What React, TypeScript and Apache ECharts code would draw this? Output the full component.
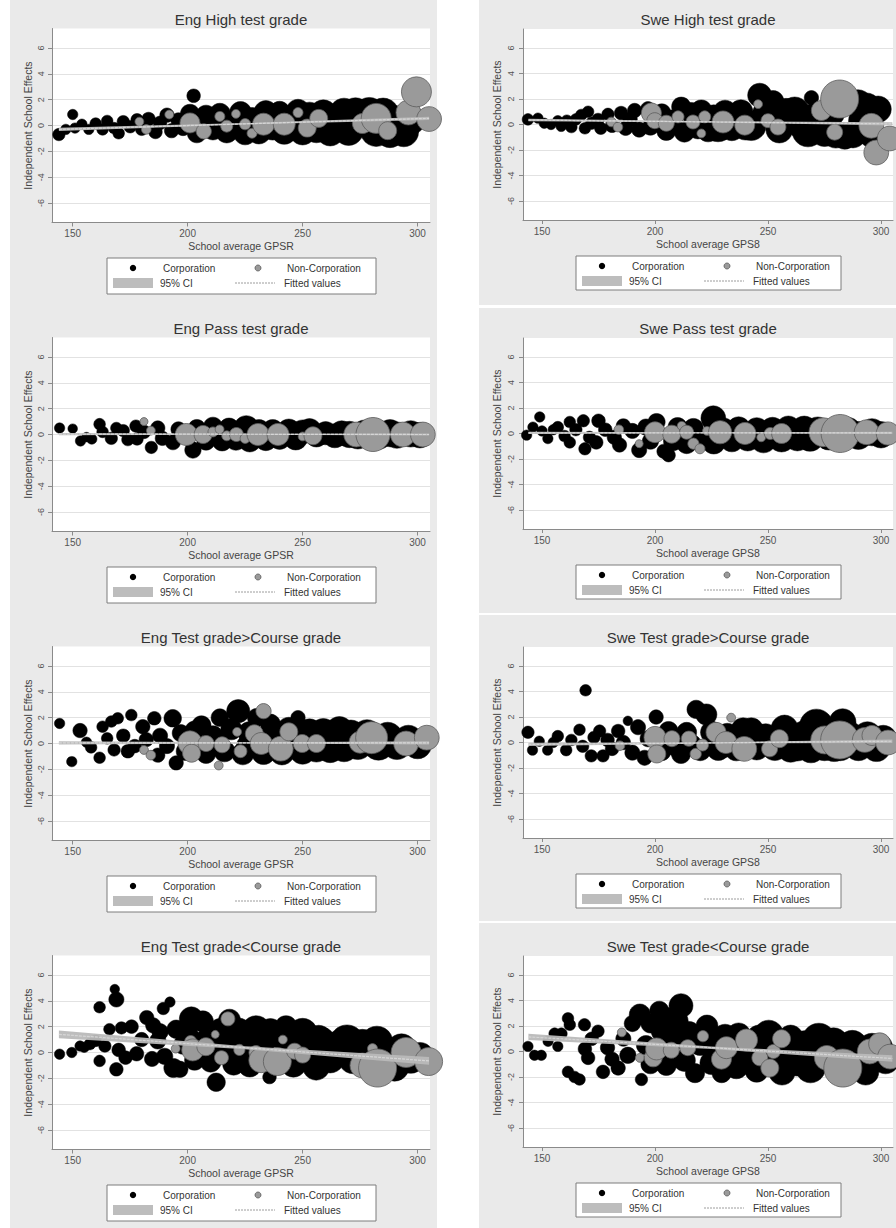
import React, { useEffect, useRef } from "react";
import * as echarts from "echarts";

const xTicks = [150, 200, 250, 300];
const yTicks = [-6, -4, -2, 0, 2, 4, 6];
const panelTitles = [
  "Eng High test grade",
  "Swe High test grade",
  "Eng Pass test grade",
  "Swe Pass test grade",
  "Eng Test grade>Course grade",
  "Swe Test grade>Course grade",
  "Eng Test grade<Course grade",
  "Swe Test grade<Course grade",
];
const xAxisTitles = [
  "School average GPSR",
  "School average GPS8",
  "School average GPSR",
  "School average GPS8",
  "School average GPSR",
  "School average GPS8",
  "School average GPSR",
  "School average GPS8",
];
const yAxisTitle = "Independent School Effects";
const legendLabels = ["Corporation", "Non-Corporation", "95% CI", "Fitted values"];

// [GPS, effect, school weight]
const engHighCorp = [
  [144, -0.7, 31], [150, 0.85, 26], [147, -0.3, 26], [151, -0.2, 26], [154, 0.1, 26], [157, -0.3, 26],
  [160, 0.15, 29], [163, -0.3, 29], [165, 0.35, 29], [168, -0.2, 29], [170, -0.6, 29], [172, 0.3, 31],
  [175, -0.1, 31], [178, 0.45, 31], [180, -0.3, 31], [183, 0.5, 34], [186, -0.5, 34], [188, 0.2, 34],
  [191, 0.8, 36], [193, -0.4, 36], [196, 0.4, 38], [198, -0.2, 38], [202.6, 2.3, 34],
  [201, 0.9, 48], [204, -0.6, 48], [208, 0.8, 50], [211, -0.3, 53], [214, 0.9, 53], [217, -0.5, 55],
  [220, 0.3, 55], [223, 1.0, 55], [225, -0.6, 58], [228, 0.5, 58], [231, -0.5, 60], [234, 1.0, 60],
  [237, -0.2, 60], [240, 1.1, 50], [242, -0.5, 62], [245, 0.6, 62], [248, 1.1, 60], [250, -0.5, 65],
  [253, 0.8, 65], [256, -0.3, 67], [259, 0.9, 70], [262, -0.5, 70], [265, 0.6, 72], [268, 1.0, 72],
  [270, -0.4, 74], [273, 1.0, 74], [276, 0.3, 77], [279, 0.95, 79], [282, -0.4, 79], [285, 0.9, 79],
  [288, -0.6, 72], [291, 0.3, 79], [294, -0.5, 74], [297, 0.4, 72],
];
const engHighNon = [
  [179, 0.3, 22], [182, -0.3, 24], [192, 0.85, 22], [201, 0.2, 50], [207, -0.45, 38], [214, 0.7, 25],
  [217, -0.05, 30], [221, 0.9, 22], [225, 0.1, 28], [228, -0.6, 25], [233, 0.1, 55], [242, 0.1, 55],
  [248, 1.0, 25], [252, -0.2, 45], [257, 0.55, 45], [276, 0.15, 50], [282, 0.55, 75], [287, -0.4, 45],
  [296, 1.0, 62], [299.5, 2.6, 75], [305, 0.5, 62],
];
// [GPS, fitted, lower CI, upper CI]
const engHighFit = [[144, -0.3, -0.42, -0.18], [225, 0.13, 0.07, 0.19], [305, 0.55, 0.43, 0.67]];

const sweHighCorp = [
  [143.8, 0.4, 29], [148.2, 0.5, 26], [151, 0.1, 26], [154, 0.0, 26], [157, 0.3, 26], [158.5, -0.15, 26],
  [161, 0.3, 29], [163, -0.2, 29], [165, 0.4, 29], [167.4, 0.75, 29], [169, -0.3, 29], [170.4, 1.0, 29],
  [172, 0.1, 31], [174.8, 0.4, 31], [176, -0.3, 31], [179.2, 0.8, 31], [181, -0.1, 34], [185, 0.9, 34],
  [187, -0.3, 36], [189, 0.4, 36], [191, 1.1, 36], [193, -0.4, 38], [196.9, 1.2, 38], [198, -0.2, 41],
  [203, 0.9, 46], [205, -0.5, 48], [208, 0.4, 48], [211.6, 1.4, 48], [213, -0.6, 50], [216, 0.9, 53],
  [219, -0.3, 53], [220.5, 1.1, 53], [223.5, -0.5, 55], [226, 0.6, 60], [227.9, -0.1, 80], [231, 1.0, 58],
  [234, -0.3, 62], [238, 1.0, 60], [240, -0.2, 65], [242.6, -0.1, 74], [246.3, 2.3, 60], [249, 0.9, 65],
  [252.2, 1.8, 55], [255, -0.4, 67], [258, 1.0, 67], [261.8, 1.0, 74], [264.7, 0.2, 80], [267.7, -0.5, 80],
  [269.2, 2.1, 36], [272, 0.6, 77], [275, -0.6, 72], [278, 0.9, 67], [280, -0.8, 67], [283.9, -1.0, 60],
  [287.6, -0.8, 66], [289.8, 1.6, 72], [292, 0.3, 72], [293.5, 1.3, 75], [298.7, 1.2, 66], [296, -0.8, 66],
];
const sweHighNon = [
  [180.7, 0.2, 24], [183.6, -0.2, 24], [198.4, 0.9, 50], [199.9, 0.3, 40], [205, 0.1, 40], [210.2, 0.6, 30],
  [216.8, 0.2, 35], [222, 0.6, 30], [220.5, -0.7, 22], [230.1, 0.2, 55], [239.7, -0.05, 50], [245.6, 1.6, 22],
  [250, 0.3, 35], [254.4, -0.2, 40], [273.6, 1.1, 50], [281.7, 2.0, 95], [279.5, -0.6, 40], [295.7, -0.1, 62],
  [297.9, -2.2, 62], [303.8, -1.1, 62],
];
const sweHighFit = [[144, 0.35, 0.25, 0.45], [225, 0.2, 0.15, 0.25], [305, 0.05, -0.07, 0.17]];

const engPassCorp = [
  [144.3, 0.5, 26], [150, 0.45, 24], [153.4, -0.5, 26], [156, -0.2, 24], [158.3, -0.35, 26], [161.7, 0.8, 29],
  [163, 0.2, 29], [166.8, -0.3, 31], [169, 0.5, 29], [172, 0.3, 31], [174, -0.4, 31], [177.5, 0.65, 31],
  [178, -0.35, 31], [181, 0.2, 34], [184.2, -1.0, 31], [187, 0.5, 36], [189, -0.3, 36], [193.6, -0.6, 38],
  [196, 0.4, 38], [202.3, -1.2, 41], [204, 0.5, 43], [208, -0.5, 46], [211, 0.6, 48], [215, -0.5, 50],
  [218, 0.5, 50], [221, -0.4, 53], [225.5, 0.5, 62], [227, -0.5, 55], [231, 0.3, 55], [234, -0.4, 55],
  [237, 0.3, 55], [240, -0.3, 55], [244, 0.3, 58], [247, -0.3, 58], [250, 0.2, 60], [253, 0.3, 60],
  [256, -0.1, 56], [260, 0.1, 58], [264, -0.1, 60], [267, 0.1, 62], [270.4, 0.0, 66], [274, -0.1, 66],
  [277, 0.1, 66], [283, -0.1, 68], [288, 0.1, 68], [291, -0.05, 66], [297, 0.05, 66], [301, -0.05, 64],
];
const engPassNon = [
  [181, 1.0, 20], [184, 0.3, 22], [199.4, 0.0, 55], [206.7, 0.0, 45], [211, 0.2, 25], [213.9, 0.4, 22],
  [217, -0.1, 25], [221.2, 0.0, 35], [225, -0.3, 25], [230.6, 0.0, 55], [239.3, 0.0, 55], [250, -0.15, 22],
  [254.5, -0.1, 45], [273.3, 0.0, 62], [280.6, 0.0, 85], [293.6, 0.0, 62], [302.3, 0.0, 62],
];
const engPassFit = [[144, 0.03, -0.05, 0.11], [225, 0.02, -0.02, 0.06], [305, 0.0, -0.08, 0.08]];

const swePassCorp = [
  [143.2, -0.13, 26], [146, 0.5, 26], [149, 1.3, 26], [150, 0.2, 26], [152.6, -0.4, 26], [155, 0.3, 26],
  [157, 0.5, 29], [160, -0.2, 29], [162.3, 0.9, 29], [162.3, -0.7, 29], [165, 0.3, 31], [168.3, 1.0, 31],
  [169, -1.2, 31], [171, -0.3, 31], [175, 1.0, 34], [174, -0.7, 34], [178, 0.3, 34], [182, -0.3, 36],
  [184.3, -0.9, 36], [186, 0.6, 36], [190, 0.2, 38], [193, -1.3, 38], [196, 0.5, 41], [198, -0.6, 41],
  [200.7, 0.9, 43], [204, -1.4, 36], [206, -1.7, 34], [208, -0.6, 48], [210, 0.5, 48], [214, -0.8, 50],
  [217, 0.4, 50], [220, -0.5, 53], [225.8, 1.2, 62], [226, -0.7, 58], [230, 0.3, 60], [234, -0.5, 60],
  [237, 0.4, 58], [241, -0.4, 62], [245, 0.3, 60], [248, -0.5, 65], [252, 0.3, 62], [256, -0.4, 67],
  [259, 0.4, 62], [263, -0.3, 68], [266, 0.3, 68], [268.6, -0.3, 70], [272, 0.2, 70], [277, -0.2, 70],
  [285, 0.15, 72], [290, -0.15, 70], [296, 0.1, 68], [300, -0.1, 66],
];
const swePassNon = [
  [184, 0.3, 24], [193, -0.8, 20], [200, 0.1, 52], [207.4, -0.05, 45], [211.8, 0.6, 22], [214, 0.1, 35],
  [217, -0.8, 28], [219.9, -1.2, 25], [223, 0.2, 22], [228.8, 0.1, 58], [239.8, 0.0, 55], [247, -0.3, 22],
  [251, 0.0, 30], [256, 0.0, 50], [274.5, 0.1, 72], [281.9, 0.0, 95], [293.6, 0.1, 62], [303, 0.0, 58],
];
const swePassFit = [[144, 0.05, -0.04, 0.14], [225, 0.05, 0.01, 0.09], [305, 0.05, -0.04, 0.14]];

const engAboveCorp = [
  [144.3, 1.55, 26], [149.6, -1.4, 26], [153.2, 1.0, 36], [156, 0.1, 26], [158, -0.3, 29], [161.7, -1.1, 29],
  [163, 1.3, 29], [165, 0.4, 29], [166.8, 1.7, 29], [168, -0.5, 31], [169.6, 1.95, 29], [172, 0.6, 34],
  [174, -0.6, 34], [175.5, 2.2, 29], [177, -0.2, 34], [180.5, 1.3, 36], [182, 0.3, 36], [185.5, 1.95, 34],
  [187, -0.9, 36], [188, 0.6, 38], [191, -0.2, 38], [193.5, 1.95, 44], [195, -1.5, 36], [197, 0.8, 43],
  [199, -0.6, 46], [200, 0.3, 46], [203, 1.0, 48], [206, 1.4, 48], [208, -0.8, 48], [211, 0.6, 50],
  [213, 0.0, 50], [214, 2.0, 44], [216, -0.6, 53], [219, 1.1, 53], [222, 2.5, 58], [224, -0.8, 55],
  [226, -0.2, 55], [227, 0.8, 58], [230, 2.0, 46], [233, -0.7, 60], [235, 0.5, 55], [236, 1.5, 50],
  [238, 0.5, 60], [241, -0.7, 62], [244, 1.1, 60], [247, 0.3, 60], [248, 2.0, 36], [250, -0.6, 65],
  [253, 0.9, 65], [256, -0.4, 67], [259, 0.9, 67], [260, 0.2, 65], [262, -0.4, 70], [266, 1.0, 70],
  [268, -0.3, 72], [271, 0.7, 72], [274, -0.1, 74], [278, 0.7, 74], [283, -0.1, 77], [287, 0.5, 74],
  [291, -0.1, 74], [296, 0.3, 72], [300, -0.1, 70],
];
const engAboveNon = [
  [181, -0.5, 22], [184, -0.9, 24], [201, 0.05, 60], [201.7, -0.75, 45], [208, 0.0, 40], [213.5, -1.7, 22],
  [215, -0.1, 40], [221.5, 0.9, 22], [223, -0.6, 32], [229, 0.75, 45], [232, 0.0, 55], [233, 2.5, 38],
  [240.5, -0.4, 62], [244, 0.9, 45], [249.8, 0.0, 45], [256, 0.0, 45], [275, 0.1, 55], [280, 0.45, 80],
  [295, 0.0, 62], [304, 0.45, 62],
];
const engAboveFit = [[144, 0.05, -0.08, 0.18], [225, 0.05, 0.0, 0.1], [305, 0.05, -0.08, 0.18]];

const sweAboveCorp = [
  [143.8, 0.8, 31], [145.8, -0.6, 26], [148.8, 0.1, 26], [152.5, -0.6, 26], [155, 0.0, 26], [157, 0.5, 29],
  [160.7, -0.6, 29], [163, 0.2, 29], [166.6, 1.0, 29], [168, -0.3, 31], [169.3, 4.1, 29], [171.8, -1.05, 31],
  [173, 0.4, 31], [175.5, 0.9, 31], [177, -1.05, 31], [179, 0.2, 34], [181, -0.5, 34], [183.7, 0.9, 34],
  [186, 0.0, 36], [188, 1.7, 24], [190, -0.8, 38], [192.5, 1.2, 38], [195.4, -1.2, 38], [197, 0.3, 41],
  [200.5, 2.0, 36], [203, -0.7, 46], [205, -0.1, 50], [206, 0.9, 48], [209, -0.3, 48], [211.5, -0.9, 48],
  [214, 0.8, 50], [216, -0.2, 53], [218.2, 2.6, 46], [220, -0.6, 53], [222.7, 2.2, 53], [225, 0.8, 55],
  [228, -0.5, 58], [230, -0.3, 58], [232, 0.6, 58], [236, -0.5, 60], [239, 1.0, 60], [242.6, 1.0, 60],
  [244, 0.2, 62], [245, -0.4, 62], [249, 0.5, 62], [253, -0.4, 65], [257.3, 1.1, 67], [258, 0.3, 65],
  [260, -0.5, 67], [263, -0.4, 67], [266, 0.6, 70], [269, -0.5, 70], [271.4, 1.3, 84], [275, -0.3, 72],
  [279.3, -0.4, 70], [282, -0.3, 72], [283, 1.6, 67], [286, 0.5, 72], [290, -0.3, 72], [294, 0.5, 72],
  [298, -0.4, 70], [301, 0.3, 67],
];
const sweAboveNon = [
  [184.5, -0.25, 24], [200, 0.4, 55], [200.8, -0.9, 45], [207.5, 0.3, 40], [215, 0.3, 38], [218, -0.9, 28],
  [221, -0.2, 30], [227, 0.8, 50], [231.4, 0.0, 55], [233.7, 1.95, 22], [239.5, -0.5, 62], [250.7, -0.5, 40],
  [255, 0.3, 45], [275.1, 0.2, 70], [281.7, 0.2, 95], [292.8, 0.2, 62], [296, 0.55, 50], [303.1, 0.0, 62],
];
const sweAboveFit = [[144, -0.15, -0.28, -0.02], [225, -0.03, -0.08, 0.02], [305, 0.1, -0.03, 0.23]];

const engBelowCorp = [
  [144.3, -0.13, 26], [149.6, 0.0, 26], [153.2, 0.5, 26], [155, 0.4, 26], [157.5, 0.65, 29], [160, 0.9, 29],
  [161.7, 3.5, 29], [161.7, -0.65, 29], [164, 0.5, 31], [166, 1.8, 29], [168.3, 4.9, 24], [169, 4.1, 38],
  [169, -1.3, 34], [170, 0.2, 34], [171.2, 1.9, 31], [173, -0.4, 34], [175.6, 2.0, 34], [177.8, -0.1, 36],
  [180, 1.0, 36], [182.2, 2.7, 36], [184.5, -0.5, 38], [185, 2.1, 38], [187, 0.9, 41], [188, 1.6, 41],
  [189.4, 3.4, 31], [190, -0.3, 41], [192.3, 3.9, 26], [193.8, -1.2, 48], [195, 1.8, 46], [196.6, -1.3, 41],
  [198, 0.6, 48], [200, 1.3, 55], [201.6, 2.6, 60], [203, -0.6, 50], [204, 0.4, 55], [206.6, 2.4, 53],
  [208, 1.0, 53], [210, -0.7, 53], [211, 0.5, 55], [212.4, -2.3, 46], [214, 1.8, 53], [216, 0.2, 55],
  [218.2, 2.5, 55], [219, 1.2, 60], [220, -0.9, 55], [222.5, 1.8, 55], [225, 0.5, 58], [227, -1.0, 58],
  [227, 0.0, 62], [229.8, 1.7, 74], [233, 0.8, 60], [235.6, -1.9, 34], [236, 1.7, 60], [237, -0.8, 62],
  [240, 1.3, 62], [242.8, 2.0, 55], [244, -0.4, 65], [245, 0.3, 65], [246, -0.9, 65], [250, 1.5, 74],
  [253, -0.3, 67], [255.9, -1.1, 67], [257, 1.1, 65], [258, 0.9, 70], [262, -0.5, 70], [262, 0.2, 70],
  [265, 0.5, 74], [269.3, 0.8, 86], [272, -0.5, 74], [276, 0.6, 77], [279, -0.8, 74], [282.3, 0.8, 80],
  [286, -0.2, 77], [290, -1.1, 72], [293, 0.3, 74], [297, -0.5, 72], [301, -0.3, 70],
];
const engBelowNon = [
  [194.8, 0.3, 22], [201.3, 0.85, 30], [202.2, 0.2, 55], [207.9, 0.45, 45], [212, 1.4, 20], [214.7, -0.4, 35],
  [217.5, 2.6, 35], [222.5, 0.2, 28], [229.7, 0.0, 35], [232, -0.6, 62], [239, -0.7, 70], [241.4, 1.0, 22],
  [246.5, 0.1, 40], [250, -0.2, 40], [276, -1.0, 62], [280.4, 0.3, 25], [282.6, -1.2, 95], [295, 0.0, 75],
  [304.8, -0.7, 70],
];
const engBelowFit = [[144, 1.4, 1.1, 1.7], [225, 0.37, 0.25, 0.49], [305, -0.65, -0.95, -0.35]];

const sweBelowCorp = [
  [143.8, 0.4, 26], [146.7, -0.3, 26], [149.7, -0.3, 26], [152.7, 0.8, 26], [155.6, 1.4, 29], [157, 0.4, 26],
  [158.6, 1.4, 29], [161.5, 2.6, 29], [162.3, 2.1, 29], [161.5, -1.6, 29], [164.4, -2.0, 29], [166.6, -2.2, 29],
  [168.8, 2.1, 31], [169, 0.2, 34], [170.4, -0.5, 34], [172, 1.0, 34], [174.8, 1.6, 31], [177, -1.6, 34],
  [179, 0.3, 36], [181, -0.6, 36], [183.7, -1.3, 36], [186, 1.0, 38], [188, -0.3, 41], [190, 2.2, 41],
  [193.3, 2.9, 53], [194, -2.2, 31], [196, 0.5, 48], [198, -1.0, 48], [198, 2.2, 48], [201.9, 3.2, 48],
  [203, 1.6, 53], [205, -1.1, 50], [205, 2.6, 55], [208, 0.9, 53], [210, 2.4, 53], [211.5, 3.6, 60],
  [213, -0.7, 55], [215, 1.5, 55], [217.7, -1.7, 48], [218, 1.0, 58], [220, 0.6, 58], [223, 2.0, 55],
  [225, -0.9, 58], [227, 0.6, 60], [229.5, -1.7, 48], [231, 1.2, 60], [234, -0.6, 62], [236, -1.2, 60],
  [237, 1.3, 60], [240, 0.4, 65], [242.9, -0.8, 65], [245, -1.5, 58], [246, 1.1, 62], [250.3, 1.3, 74],
  [253, -0.7, 67], [256.2, -1.6, 66], [259, 0.6, 70], [260, 1.1, 62], [263, -0.8, 72], [266, 0.5, 72],
  [268.8, -1.3, 74], [270, 0.2, 70], [272.5, 0.9, 84], [276, -0.5, 74], [279, 0.7, 74], [282.8, -0.2, 77],
  [284, -1.2, 72], [287.3, 0.5, 74], [290, -1.1, 72], [293.2, -1.6, 66], [296, 0.3, 72], [299, 0.3, 70],
  [302, -0.7, 67],
];
const sweBelowNon = [
  [185.3, 1.5, 22], [193.3, -0.5, 22], [199.2, -0.5, 45], [200.7, 0.2, 55], [207.2, 0.1, 40], [214.5, 0.3, 40],
  [221.2, 1.2, 28], [229.4, -0.6, 50], [231.6, 0.3, 55], [240.5, 0.9, 55], [246.4, -0.5, 40], [250.8, -1.3, 45],
  [252.4, 0.0, 35], [256, 1.0, 45], [276, -0.5, 62], [283.1, -1.3, 95], [295, 0.0, 62], [299.4, 0.6, 55],
  [304, -0.4, 62],
];
const sweBelowFit = [[144, 1.15, 0.9, 1.4], [225, 0.3, 0.2, 0.4], [305, -0.55, -0.8, -0.3]];

const corpSets = [engHighCorp, sweHighCorp, engPassCorp, swePassCorp, engAboveCorp, sweAboveCorp, engBelowCorp, sweBelowCorp];
const nonSets = [engHighNon, sweHighNon, engPassNon, swePassNon, engAboveNon, sweAboveNon, engBelowNon, sweBelowNon];
const fitSets = [engHighFit, sweHighFit, engPassFit, swePassFit, engAboveFit, sweAboveFit, engBelowFit, sweBelowFit];

const FONT = '"Liberation Sans", Arial, Helvetica, sans-serif';
const ROW_STEP = 309;
const COLS = [
  { plotLeft: 52, plotTop: 28.5, plotW: 378, plotH: 194, xMin: 141, xMax: 305.4, legendLeft: 107, legendTop: 258, legendW: 269, legendH: 36, yNameGap: 19, yLabelMargin: 7, titleX: 241 },
  { plotLeft: 523, plotTop: 29, plotW: 370, plotH: 191, xMin: 141.6, xMax: 305.3, legendLeft: 576, legendTop: 256, legendW: 265, legendH: 34, yNameGap: 21, yLabelMargin: 8, titleX: 708 },
];

const txt = (s: string, x: number, y: number, size: number, align = "left", color = "#333") => ({
  type: "text",
  x,
  y,
  z: 20,
  style: {
    text: s,
    fill: color,
    font: `${size}px ${FONT}`,
    textAlign: align,
    textVerticalAlign: "middle",
    align,
    verticalAlign: "middle",
  },
});

function buildOption() {
  const grids: any[] = [];
  const xAxes: any[] = [];
  const yAxes: any[] = [];
  const series: any[] = [];
  const scatterIdx: number[] = [];
  const els: any[] = [];

  els.push({ type: "rect", z: -10, shape: { x: 10, y: 0, width: 427, height: 1228 }, style: { fill: "#eaeaea" } });
  [[0, 305], [308, 305], [615, 306], [923, 305]].forEach(([y, h]) =>
    els.push({ type: "rect", z: -10, shape: { x: 479, y, width: 417, height: h }, style: { fill: "#eaeaea" } })
  );

  panelTitles.forEach((title, i) => {
    const col = COLS[i % 2];
    const o = ROW_STEP * Math.floor(i / 2);
    grids.push({
      left: col.plotLeft,
      top: col.plotTop + o,
      width: col.plotW,
      height: col.plotH,
      show: true,
      backgroundColor: "#ffffff",
      borderWidth: 0,
    });
    xAxes.push({
      type: "value",
      gridIndex: i,
      min: col.xMin,
      max: col.xMax,
      axisLine: { show: true, onZero: false, lineStyle: { color: "#8a8a8a", width: 1 } },
      axisTick: { show: true, length: 4, customValues: xTicks, lineStyle: { color: "#8a8a8a" } },
      axisLabel: {
        customValues: xTicks,
        fontSize: 10,
        color: "#555",
        margin: 6,
        fontFamily: FONT,
        formatter: (v: number) => (xTicks.includes(v) ? String(v) : ""),
      },
      splitLine: { show: false },
      name: xAxisTitles[i],
      nameLocation: "middle",
      nameGap: 18,
      nameTextStyle: { fontSize: 10.5, color: "#444", fontFamily: FONT },
    });
    yAxes.push({
      type: "value",
      gridIndex: i,
      min: -7.5,
      max: 7.5,
      splitNumber: 7,
      axisLine: { show: true, onZero: false, lineStyle: { color: "#8a8a8a", width: 1 } },
      axisTick: { show: true, length: 4, customValues: yTicks, lineStyle: { color: "#8a8a8a" } },
      axisLabel: {
        customValues: yTicks,
        rotate: 90,
        fontSize: 9,
        color: "#555",
        margin: col.yLabelMargin,
        fontFamily: FONT,
        formatter: (v: number) => (yTicks.includes(v) ? String(v) : ""),
      },
      splitLine: { show: true, lineStyle: { color: "#e2e2e2", width: 1 } },
      name: yAxisTitle,
      nameLocation: "middle",
      nameRotate: 90,
      nameGap: col.yNameGap,
      nameTextStyle: { fontSize: 10.5, color: "#444", fontFamily: FONT },
    });

    const fit = fitSets[i];
    scatterIdx.push(series.length);
    series.push({
      type: "scatter",
      name: legendLabels[0],
      xAxisIndex: i,
      yAxisIndex: i,
      data: corpSets[i],
      clip: false,
      silent: true,
      z: 2,
      itemStyle: { color: "#000000", borderColor: "#000000", borderWidth: 0.5, opacity: 1 },
    });
    scatterIdx.push(series.length);
    series.push({
      type: "scatter",
      name: legendLabels[1],
      xAxisIndex: i,
      yAxisIndex: i,
      data: nonSets[i],
      clip: false,
      silent: true,
      z: 3,
      itemStyle: { color: "#9a9a9a", borderColor: "#5c5c5c", borderWidth: 0.8, opacity: 1 },
    });
    series.push({
      type: "custom",
      name: legendLabels[2],
      xAxisIndex: i,
      yAxisIndex: i,
      data: fit,
      silent: true,
      z: 4,
      encode: { x: 0, y: [1, 2, 3] },
      renderItem: (params: any, api: any) => {
        if (params.dataIndex !== 0) return { type: "group", children: [] };
        const upper = fit.map((r) => api.coord([r[0], r[3]]));
        const lower = fit.map((r) => api.coord([r[0], r[2]])).reverse();
        return {
          type: "polygon",
          shape: { points: upper.concat(lower) },
          style: { fill: "#b9b9b9", opacity: 0.95 },
        };
      },
    });
    series.push({
      type: "line",
      name: legendLabels[3],
      xAxisIndex: i,
      yAxisIndex: i,
      data: fit.map((r) => [r[0], r[1]]),
      symbol: "none",
      silent: true,
      z: 5,
      lineStyle: { color: "#d6d6d6", width: 1.2, type: [3, 1] },
    });

    els.push(txt(title, col.titleX, o + 19, 15, "center", "#333"));

    const L = col.legendLeft;
    const T = col.legendTop + o;
    els.push({
      type: "rect",
      z: 15,
      shape: { x: L, y: T, width: col.legendW, height: col.legendH },
      style: { fill: "#ffffff", stroke: "#7c7c7c", lineWidth: 1 },
    });
    els.push({ type: "circle", z: 20, shape: { cx: L + 26, cy: T + 10, r: 3.2 }, style: { fill: "#000" } });
    els.push(txt(legendLabels[0], L + 56, T + 10.5, 10));
    els.push({
      type: "circle",
      z: 20,
      shape: { cx: L + 151, cy: T + 10, r: 3 },
      style: { fill: "#9a9a9a", stroke: "#555", lineWidth: 0.8 },
    });
    els.push(txt(legendLabels[1], L + 180, T + 10.5, 10));
    els.push({ type: "rect", z: 20, shape: { x: L + 6, y: T + 20, width: 40, height: 10 }, style: { fill: "#bdbdbd" } });
    els.push(txt(legendLabels[2], L + 53, T + 25.5, 10));
    els.push({
      type: "line",
      z: 20,
      shape: { x1: L + 128, y1: T + 25, x2: L + 168, y2: T + 25 },
      style: { stroke: "#9c9c9c", lineWidth: 1, lineDash: [2, 1] },
    });
    els.push(txt(legendLabels[3], L + 177, T + 25.5, 10));
  });

  return {
    animation: false,
    backgroundColor: "#ffffff",
    textStyle: { fontFamily: FONT },
    grid: grids,
    xAxis: xAxes,
    yAxis: yAxes,
    visualMap: [
      {
        show: false,
        type: "continuous",
        seriesIndex: scatterIdx,
        dimension: 2,
        min: 0,
        max: 100,
        inRange: { symbolSize: [0, 40] },
      },
    ],
    graphic: { elements: els },
    series,
  };
}

export default function App() {
  const ref = useRef<HTMLDivElement>(null);
  useEffect(() => {
    if (!ref.current) return;
    const chart = echarts.init(ref.current, null, { renderer: "svg" });
    chart.setOption(buildOption() as any);
    return () => chart.dispose();
  }, []);
  return (
    <div
      ref={ref}
      style={{ position: "absolute", left: 0, top: 0, width: 896, height: 1228, background: "#fff" }}
    />
  );
}
